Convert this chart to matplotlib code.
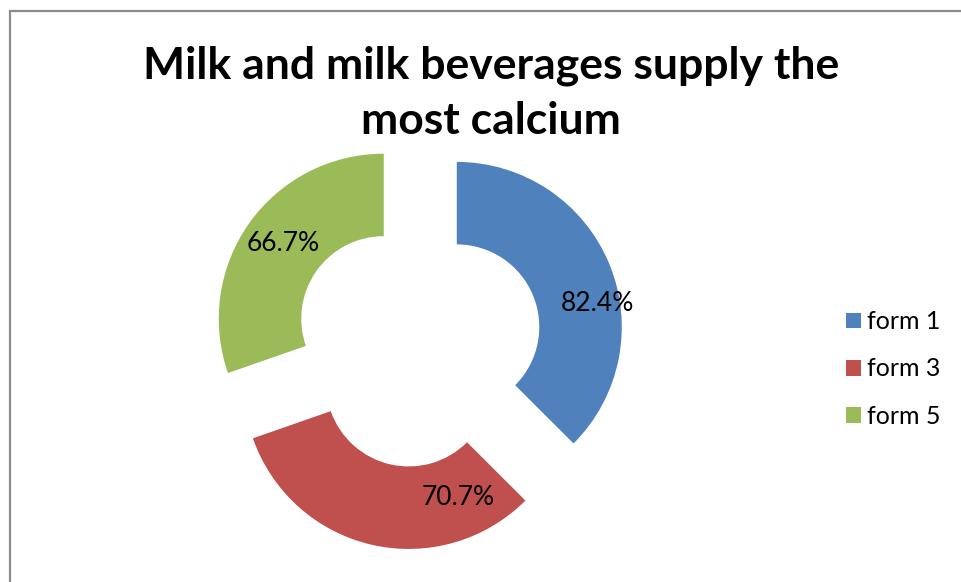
import numpy as np
import matplotlib
matplotlib.use("Agg")
import matplotlib.pyplot as plt
from matplotlib.patches import Rectangle, Patch

# ---- data ----
categories = ["form 1", "form 3", "form 5"]
values = [82.4, 70.7, 66.7]
labels = ["82.4%", "70.7%", "66.7%"]
colors = ["#4F81BD", "#C0504D", "#9BBB59"]
title = "Milk and milk beverages supply the\nmost calcium"

# ---- layout (label offsets from each exploded wedge's centre: angle clockwise from top, radius) ----
label_layout = [(80.5, 0.866), (156.7, 0.752), (306.6, 0.762)]

W, H, DPI = 961, 582, 100
fig = plt.figure(figsize=(W / DPI, H / DPI), dpi=DPI)
fig.patch.set_facecolor("white")

R_PX = 165.0
CX, CY = 418.0, 582 - 343.0
ax = fig.add_axes([0, 0, 1, 1])
wedges, _ = ax.pie(values, colors=colors, startangle=90, counterclock=False,
                   explode=[0.2545] * 3, radius=1.0,
                   wedgeprops=dict(width=0.5, linewidth=0, antialiased=True))
ax.set_aspect("auto")
ax.set_xlim(-CX / R_PX, (W - CX) / R_PX)
ax.set_ylim(-CY / R_PX, (H - CY) / R_PX)
ax.axis("off")

for w, lab, (ang, rad) in zip(wedges, labels, label_layout):
    cx, cy = w.center
    a = np.deg2rad(ang)
    ax.text(cx + rad * np.sin(a), cy + rad * np.cos(a), lab,
            ha="center", va="center", fontsize=19, family="Lato", color="black")

fig.text(491 / W, 1 - 93 / H, title, ha="center", va="center",
         fontsize=32, fontweight="bold", family="Lato", linespacing=1.45)

handles = [Patch(facecolor=c, edgecolor="none") for c in colors]
fig.legend(handles, categories, loc="center left",
           bbox_to_anchor=(823.5 / W, 1 - 369 / H), frameon=False,
           prop=dict(family="Lato", size=18), handlelength=0.6,
           handleheight=0.6, handletextpad=0.24, labelspacing=0.97)

# chart border (only left and top edges visible in the frame)
fig.patches.append(Rectangle((9.5 / W, -0.05), 1.2, (H - 10.5) / H + 0.05,
                             transform=fig.transFigure, fill=False,
                             edgecolor="#8C8C8C", linewidth=1.6))

fig.savefig("out.png", dpi=DPI)
